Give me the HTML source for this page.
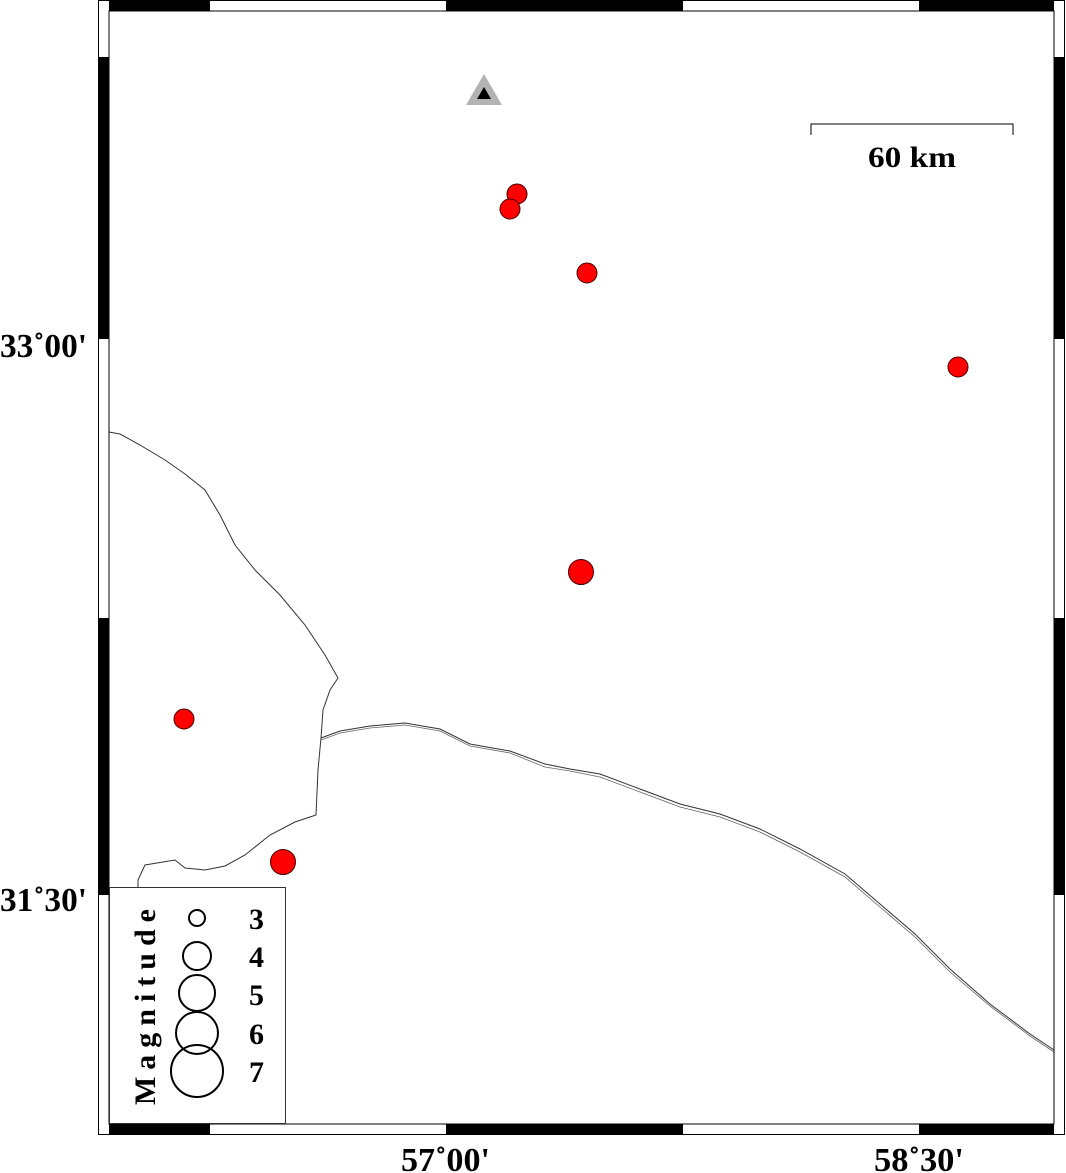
<!DOCTYPE html>
<html><head><meta charset="utf-8"><style>html,body{margin:0;padding:0;background:#fff}svg{display:block}</style></head>
<body>
<svg width="1066" height="1173" viewBox="0 0 1066 1173" xmlns="http://www.w3.org/2000/svg" font-family="Liberation Serif, serif" font-weight="bold">
<rect width="1066" height="1173" fill="#fff"/>
<polyline fill="none" stroke="#333" stroke-width="1" points="109,432 120,434 140,445 165,460 185,474 205,490 220,515 235,545 255,570 280,595 305,625 325,655 338,678 330,690 323,710 321,738 318,770 316,815 295,822 270,835 245,855 225,866 205,870 185,868 175,860 145,865 138,880 138,887"/>
<polyline fill="none" stroke="#333" stroke-width="1" points="321,738 340,731 370,726 405,723 440,729 470,744 510,751 545,764 570,769 600,774 640,789 680,804 720,814 760,829 800,849 845,874 880,904 915,934 950,969 990,1004 1030,1034 1054,1050"/>
<polyline fill="none" stroke="#666" stroke-width="0.8" points="321,740 340,733 370,728 405,725 440,731 470,746 510,753 545,767 570,771 600,777 640,792 680,807 720,817 760,832 800,852 845,877 880,907 915,937 950,972 990,1006 1030,1036 1054,1052"/>
<rect x="98.5" y="0.5" width="966" height="1134" fill="none" stroke="#000"/>
<rect x="109" y="11" width="945" height="1113" fill="none" stroke="#000" stroke-width="1"/>
<g fill="#000">
<rect x="109" y="0" width="101" height="11"/><rect x="446" y="0" width="237" height="11"/><rect x="919" y="0" width="135" height="11"/>
<rect x="109" y="1124" width="101" height="11"/><rect x="446" y="1124" width="237" height="11"/><rect x="919" y="1124" width="135" height="11"/>
<rect x="98" y="57" width="11" height="282"/><rect x="98" y="618" width="11" height="277"/>
<rect x="1054" y="57" width="11" height="282"/><rect x="1054" y="618" width="11" height="277"/>
</g>
<polygon points="466,105 502,105 484,74" fill="#b3b3b3"/>
<polygon points="477,99 491,99 484,87" fill="#000"/>
<g fill="#f00" stroke="#400" stroke-width="1">
<circle cx="517" cy="194" r="10"/><circle cx="510" cy="209" r="10"/>
<circle cx="587" cy="273" r="10"/><circle cx="958" cy="367" r="10"/>
<circle cx="581" cy="572" r="12.5"/><circle cx="184" cy="719" r="10"/>
<circle cx="283" cy="862" r="12.5"/>
</g>
<polyline points="811,135 811,124 1013,124 1013,135" fill="none" stroke="#000" stroke-width="1"/>
<text x="912" y="167" font-size="30" text-anchor="middle" textLength="88" lengthAdjust="spacingAndGlyphs">60 km</text>
<rect x="109.5" y="887.5" width="176" height="236" fill="#fff" stroke="#333"/>
<g fill="none" stroke="#000" stroke-width="2">
<circle cx="197" cy="918" r="8"/><circle cx="197" cy="956" r="14"/><circle cx="197" cy="993" r="18"/><circle cx="197" cy="1033" r="21"/><circle cx="197" cy="1071" r="26"/>
</g>
<g font-size="30">
<text x="249" y="929">3</text><text x="249" y="967">4</text><text x="249" y="1005">5</text><text x="249" y="1044">6</text><text x="249" y="1082">7</text>
</g>
<text transform="translate(155,1105) rotate(-90)" font-size="30" textLength="196" lengthAdjust="spacing">Magnitude</text>
<text x="0" y="357" font-size="34" textLength="87" lengthAdjust="spacingAndGlyphs">33˚00'</text>
<text x="0" y="911" font-size="34" textLength="87" lengthAdjust="spacingAndGlyphs">31˚30'</text>
<text x="401" y="1171" font-size="34" textLength="89" lengthAdjust="spacingAndGlyphs">57˚00'</text>
<text x="874" y="1171" font-size="34" textLength="90" lengthAdjust="spacingAndGlyphs">58˚30'</text>
</svg>
</body></html>
